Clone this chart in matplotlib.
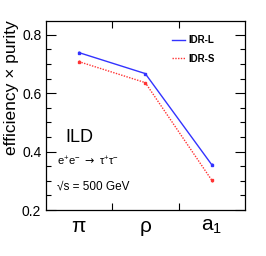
import numpy as np
import matplotlib
matplotlib.use("Agg")
import matplotlib.pyplot as plt
from matplotlib.ticker import MultipleLocator
from matplotlib.lines import Line2D

plt.rcParams["font.family"] = ["Liberation Sans", "DejaVu Sans"]

# decay channels and efficiency x purity values
channels = ["π", "ρ", r"a$_\mathregular{1}$"]
idr_l = [0.739, 0.667, 0.355]
idr_s = [0.708, 0.636, 0.302]
err_l = [0.004, 0.003, 0.005]
err_s = [0.004, 0.003, 0.005]

x = np.arange(len(channels)) + 0.5
blue = "#3333ff"
red = "#ff3333"

fig = plt.figure(figsize=(2.66, 2.56), dpi=100)
ax = fig.add_axes([45.5 / 266, 1 - 210 / 256, (245 - 45.5) / 266, (210 - 20.7) / 256])

ax.errorbar(x, idr_l, yerr=err_l, color=blue, lw=1.0, marker="s", ms=2,
            capsize=0, elinewidth=1)
ax.errorbar(x, idr_s, yerr=err_s, color=red, lw=1.0, ls=(0, (1, 1)), marker="s", ms=2,
            capsize=0, elinewidth=1)

ax.set_xlim(0, 3)
ax.set_ylim(0.2, 0.848)
ax.yaxis.set_minor_locator(MultipleLocator(0.05))
ax.set_yticks([0.2, 0.4, 0.6, 0.8])
ax.set_yticklabels(["0.2", "0.4", "0.6", "0.8"], fontsize=10)
ax.set_xticks([1, 2])
ax.set_xticklabels([])
for xi, lab in zip(x, channels):
    ax.text(xi, -0.035, lab, transform=ax.get_xaxis_transform(), ha="center", va="top", fontsize=15)

ax.tick_params(axis="both", which="both", direction="in", top=True, right=True, width=0.8)
ax.tick_params(axis="y", which="major", length=7, pad=3)
ax.tick_params(axis="y", which="minor", length=3.5)
ax.tick_params(axis="x", which="major", length=5)
for s in ax.spines.values():
    s.set_linewidth(0.9)

ax.set_ylabel("efficiency × purity", fontsize=12.5, labelpad=2, loc="top")

ax.text(0.1, 0.36, "ILD", transform=ax.transAxes, fontsize=13, va="baseline")
ax.text(0.06, 0.235, r"e$^\mathregular{+}$e$^\mathregular{-}$ $\rightarrow$ τ$^\mathregular{+}$τ$^\mathregular{-}$",
        transform=ax.transAxes, fontsize=8, va="baseline")
ax.text(0.06, 0.11, "√s = 500 GeV", transform=ax.transAxes, fontsize=8.5, va="baseline")

handles = [Line2D([], [], color=blue, lw=1.0),
           Line2D([], [], color=red, lw=1.0, ls=(0, (1, 1)))]
ax.legend(handles, ["IDR-L", "IDR-S"], loc="upper right", bbox_to_anchor=(0.89, 0.97),
          frameon=False, prop={"size": 7, "weight": "bold"}, handlelength=1.3,
          handletextpad=0.3, labelspacing=0.9)

fig.savefig("out.png", dpi=100)
